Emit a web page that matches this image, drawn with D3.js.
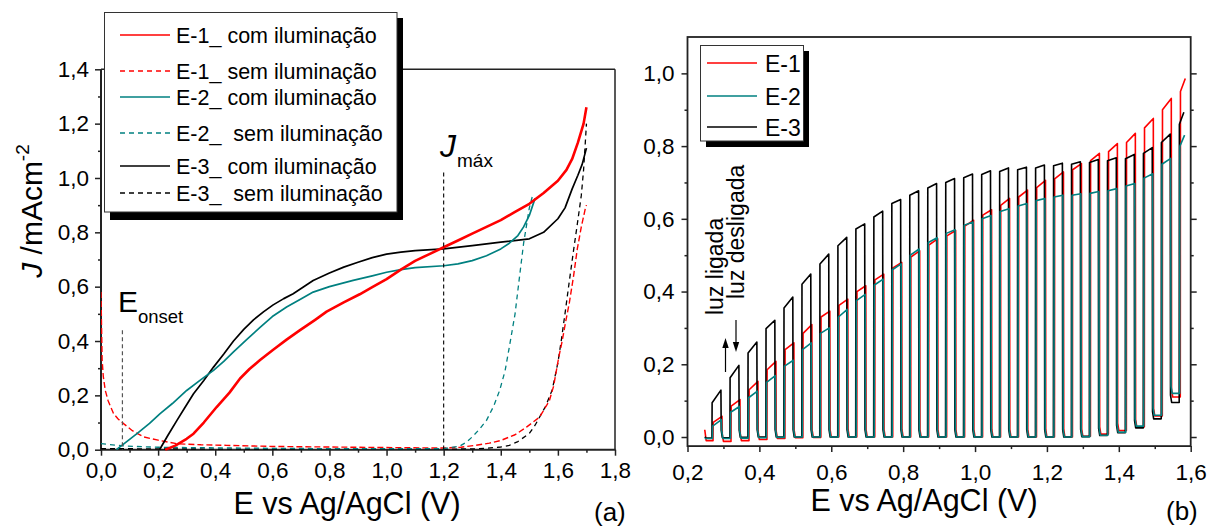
<!DOCTYPE html>
<html><head><meta charset="utf-8">
<script src="https://cdn.jsdelivr.net/npm/d3@7"></script>
<style>
html,body{margin:0;padding:0;background:#fff;}
svg{display:block;font-family:"Liberation Sans",Arial,sans-serif;}
</style></head><body>
<svg id="c" width="1208" height="526"></svg>
<script>
// ---------- Panel (a) data ----------
const e1ComX = [0.225,0.26,0.30,0.324,0.36,0.405,0.45,0.487,0.52,0.557,0.603,0.65,0.697,0.75,0.79,0.85,0.906,0.95,1.0,1.05,1.1,1.15,1.2,1.25,1.3,1.35,1.4,1.45,1.5,1.55,1.6,1.63,1.65,1.67,1.69,1.7];
const e1ComY = [0,0.015,0.04,0.059,0.10,0.157,0.21,0.262,0.297,0.33,0.368,0.405,0.44,0.478,0.508,0.542,0.572,0.598,0.628,0.663,0.695,0.72,0.745,0.77,0.795,0.82,0.845,0.875,0.905,0.945,0.99,1.03,1.07,1.13,1.2,1.26];
const e1SemX = [0,0.002,0.004,0.008,0.015,0.025,0.044,0.06,0.079,0.11,0.149,0.2,0.266,0.35,0.44,0.6,0.79,1.0,1.2,1.26,1.31,1.36,1.40,1.45,1.49,1.536,1.57,1.585,1.603,1.615,1.627,1.64,1.655,1.668,1.682,1.696,1.7];
const e1SemY = [0.58,0.45,0.33,0.27,0.218,0.18,0.133,0.113,0.096,0.07,0.047,0.035,0.022,0.018,0.016,0.012,0.01,0.008,0.006,0.009,0.016,0.024,0.034,0.055,0.083,0.12,0.18,0.234,0.34,0.4,0.47,0.54,0.64,0.739,0.82,0.887,0.9];
const e2ComX = [0.054,0.09,0.126,0.17,0.207,0.25,0.30,0.35,0.394,0.43,0.464,0.51,0.557,0.60,0.65,0.70,0.743,0.8,0.883,0.95,1.0,1.05,1.1,1.2,1.25,1.3,1.35,1.4,1.43,1.46,1.48,1.5,1.52];
const e2ComY = [0,0.03,0.059,0.097,0.133,0.17,0.218,0.258,0.292,0.325,0.36,0.405,0.45,0.49,0.525,0.555,0.58,0.60,0.623,0.64,0.653,0.663,0.67,0.677,0.684,0.696,0.714,0.739,0.76,0.788,0.82,0.862,0.925];
const e2SemX = [0,0.05,0.09,0.2,0.4,0.6,0.8,1.0,1.2,1.256,1.28,1.30,1.325,1.35,1.375,1.396,1.415,1.43,1.45,1.466,1.48,1.5,1.51];
const e2SemY = [0.022,0.017,0.013,0.009,0.007,0.005,0.004,0.004,0.004,0.013,0.028,0.047,0.075,0.108,0.16,0.218,0.29,0.378,0.5,0.64,0.76,0.89,0.93];
const e3ComX = [0.205,0.235,0.266,0.295,0.324,0.36,0.394,0.43,0.464,0.5,0.534,0.57,0.603,0.64,0.673,0.71,0.743,0.8,0.85,0.9,0.95,1.0,1.05,1.1,1.2,1.3,1.4,1.5,1.55,1.6,1.625,1.65,1.67,1.685,1.7];
const e3ComY = [0,0.054,0.108,0.157,0.206,0.255,0.304,0.352,0.40,0.443,0.478,0.508,0.533,0.556,0.574,0.60,0.623,0.65,0.672,0.69,0.707,0.72,0.727,0.733,0.739,0.751,0.764,0.776,0.8,0.85,0.89,0.96,1.01,1.05,1.11];
const e3SemX = [0,0.2,0.5,0.8,1.0,1.2,1.3,1.35,1.4,1.43,1.46,1.5,1.52,1.557,1.58,1.6,1.613,1.627,1.64,1.654,1.668,1.682,1.69,1.696,1.7];
const e3SemY = [0.004,0.003,0.002,0.002,0.002,0.002,0.003,0.005,0.01,0.016,0.03,0.06,0.09,0.16,0.22,0.32,0.41,0.517,0.62,0.727,0.83,0.936,1.03,1.13,1.2];
const legendA = ["E-1_ com iluminação","E-1_ sem iluminação","E-2_ com iluminação","E-2_  sem iluminação","E-3_ com iluminação","E-3_  sem iluminação"];
const xTicksA = [0,0.2,0.4,0.6,0.8,1.0,1.2,1.4,1.6,1.8];
const xMinorA = [0.1,0.3,0.5,0.7,0.9,1.1,1.3,1.5,1.7];
const yTicksA = [0,0.2,0.4,0.6,0.8,1.0,1.2,1.4];
const yMinorA = [0.1,0.3,0.5,0.7,0.9,1.1,1.3];
const eOnset = 0.075, eOnsetTop = 0.44;
const jMax = 1.2, jMaxTop = 1.02;

// ---------- Panel (b) data ----------
const lightOn  = [0.268,0.318,0.368,0.418,0.468,0.518,0.568,0.618,0.668,0.718,0.768,0.818,0.868,0.918,0.968,1.018,1.068,1.118,1.168,1.218,1.268,1.318,1.368,1.418,1.468,1.518,1.568];
const lightOff = [0.293,0.343,0.393,0.443,0.493,0.543,0.593,0.643,0.693,0.743,0.793,0.843,0.893,0.943,0.993,1.043,1.093,1.143,1.193,1.243,1.293,1.343,1.393,1.443,1.493,1.543];
const scanStart = 0.248;
const e1On  = [0.04,0.085,0.13,0.185,0.24,0.285,0.33,0.362,0.40,0.432,0.465,0.495,0.528,0.553,0.58,0.61,0.637,0.66,0.686,0.71,0.735,0.76,0.785,0.81,0.85,0.90,0.95];
const e1Top = [0.057,0.103,0.153,0.208,0.259,0.309,0.346,0.379,0.416,0.448,0.48,0.512,0.545,0.568,0.596,0.625,0.656,0.679,0.706,0.729,0.752,0.78,0.807,0.835,0.876,0.931,0.986];
const e1Dark= [-0.01,-0.012,-0.01,-0.007,-0.004,-0.002,-0.001,0,0,0,0,0,0,0,0,0,0,0,0,0,0,0.002,0.008,0.018,0.028,0.058,0.11];
const e2On  = [0.03,0.068,0.108,0.15,0.195,0.24,0.285,0.33,0.375,0.418,0.46,0.50,0.535,0.56,0.582,0.60,0.62,0.635,0.65,0.66,0.665,0.67,0.677,0.69,0.712,0.75,0.80];
const e2Top = [0.048,0.084,0.126,0.169,0.211,0.259,0.30,0.351,0.392,0.434,0.476,0.517,0.548,0.57,0.591,0.609,0.628,0.642,0.656,0.665,0.669,0.675,0.683,0.697,0.724,0.766,0.83];
const e2Dark= [-0.004,-0.004,-0.003,-0.002,-0.001,0,0,0,0,0,0,0,0,0,0,0,0,0,0,0,0,0.001,0.005,0.013,0.03,0.06,0.12];
const e3On  = [0.094,0.163,0.231,0.298,0.355,0.42,0.476,0.526,0.572,0.605,0.642,0.665,0.685,0.70,0.713,0.722,0.73,0.735,0.74,0.746,0.75,0.755,0.76,0.765,0.78,0.81,0.86];
const e3Top = [0.129,0.197,0.261,0.321,0.385,0.448,0.503,0.549,0.586,0.621,0.653,0.677,0.697,0.711,0.723,0.732,0.74,0.742,0.748,0.753,0.757,0.763,0.768,0.777,0.796,0.833,0.893];
const e3Dark= [-0.003,-0.002,-0.001,0,0,0,0,0,0,0,0,0,0,0,0,0,0,0,0,0,0,0.001,0.004,0.012,0.025,0.05,0.095];
const startVal = {e1:0.02, e2:-0.004, e3:0.0};
const delay = {e1:0.003, e2:0.0015, e3:0};
const scanEnd = {e1:1.585, e2:1.583, e3:1.581};
const legendB = ["E-1","E-2","E-3"];
const xTicksB = [0.2,0.4,0.6,0.8,1.0,1.2,1.4,1.6];
const xMinorB = [0.3,0.5,0.7,0.9,1.1,1.3,1.5];
const yTicksB = [0,0.2,0.4,0.6,0.8,1.0];
const yMinorB = [0.1,0.3,0.5,0.7,0.9];

const RED="#ff0000", TEAL="#008080", BLK="#000000";
const fmt = d => d.toFixed(1).replace('.', ',');

const svg = d3.select("#c");

// ================= Panel (a) =================
const xA = d3.scaleLinear().domain([0,1.8]).range([101,615]);
const yA = d3.scaleLinear().domain([0,1.4]).range([449.7,69.3]);
const gA = svg.append("g");

function styleAxis(g, fs){
  g.selectAll("path.domain").remove();
  g.selectAll("line").attr("stroke","#222").attr("stroke-width",1.5);
  g.selectAll("text").attr("font-size",fs).attr("fill","#000").attr("font-family","Liberation Sans, Arial, sans-serif");
}
gA.append("g").attr("transform","translate(0,449.7)")
  .call(d3.axisBottom(xA).tickValues(xMinorA).tickSize(3).tickFormat("")).call(g=>styleAxis(g,22.5));
gA.append("g").attr("transform","translate(0,449.7)")
  .call(d3.axisBottom(xA).tickValues(xTicksA).tickSize(6).tickPadding(6).tickFormat(fmt)).call(g=>styleAxis(g,22.5));
gA.append("g").attr("transform","translate(101,0)")
  .call(d3.axisLeft(yA).tickValues(yMinorA).tickSize(3).tickFormat("")).call(g=>styleAxis(g,22.5));
gA.append("g").attr("transform","translate(101,0)")
  .call(d3.axisLeft(yA).tickValues(yTicksA).tickSize(6).tickPadding(6).tickFormat(fmt)).call(g=>styleAxis(g,22.5));

// frame (drawn below curves)
gA.append("line").attr("x1",101).attr("x2",615).attr("y1",69.3).attr("y2",69.3).attr("stroke","#222").attr("stroke-width",1.5);
gA.append("line").attr("x1",615).attr("x2",615).attr("y1",69.3).attr("y2",449.7).attr("stroke","#222").attr("stroke-width",1.5);
gA.append("line").attr("x1",101).attr("x2",101).attr("y1",69.3).attr("y2",450.5).attr("stroke","#222").attr("stroke-width",2);
gA.append("line").attr("x1",100).attr("x2",615.7).attr("y1",449.7).attr("y2",449.7).attr("stroke","#222").attr("stroke-width",2);

svg.append("clipPath").attr("id","clipA").append("rect")
  .attr("x",xA(0)).attr("y",yA(1.4)).attr("width",xA(1.8)-xA(0)+1).attr("height",yA(0)-yA(1.4)+1);
const plotA = gA.append("g").attr("clip-path","url(#clipA)");
const lineA = (xs,ys) => d3.line().x((d,i)=>xA(xs[i])).y((d,i)=>yA(ys[i]))(xs);
const curvesA = [
  {xs:e3SemX, ys:e3SemY, c:BLK, dash:"5,4", w:1.3},
  {xs:e1SemX, ys:e1SemY, c:RED, dash:"6,3", w:1.4},
  {xs:e2SemX, ys:e2SemY, c:TEAL, dash:"5,4", w:1.3},
  {xs:e3ComX, ys:e3ComY, c:BLK, dash:null, w:1.7},
  {xs:e2ComX, ys:e2ComY, c:TEAL, dash:null, w:1.7},
  {xs:e1ComX, ys:e1ComY, c:RED, dash:null, w:2.6},
];
curvesA.forEach(s=>{
  plotA.append("path").attr("d",lineA(s.xs,s.ys)).attr("fill","none")
   .attr("stroke",s.c).attr("stroke-width",s.w).attr("stroke-dasharray",s.dash)
   .attr("stroke-linejoin","round");
});
gA.append("line").attr("x1",xA(eOnset)).attr("x2",xA(eOnset)).attr("y1",yA(eOnsetTop)).attr("y2",yA(0))
  .attr("stroke","#555").attr("stroke-width",1.2).attr("stroke-dasharray","4,3");
gA.append("line").attr("x1",xA(jMax)).attr("x2",xA(jMax)).attr("y1",yA(jMaxTop)).attr("y2",yA(0))
  .attr("stroke","#000").attr("stroke-width",1.1).attr("stroke-dasharray","4,3");
gA.append("text").attr("x",118).attr("y",312).attr("font-size",30).text("E");
gA.append("text").attr("x",138).attr("y",322.5).attr("font-size",18.5).text("onset");
gA.append("text").attr("x",440).attr("y",157).attr("font-size",32).attr("font-style","italic").text("J");
gA.append("text").attr("x",457).attr("y",167).attr("font-size",19).text("máx");

// legend (a)
gA.append("rect").attr("x",110).attr("y",18).attr("width",293).attr("height",202).attr("fill","#000");
gA.append("rect").attr("x",104.5).attr("y",12.5).attr("width",292.5).attr("height",199.5).attr("fill","#fff").attr("stroke","#333").attr("stroke-width",1);
const legRowsA = [35,71,97,133,166,193];
const legStyleA = [[RED,null],[RED,"5,4"],[TEAL,null],[TEAL,"5,4"],[BLK,null],[BLK,"5,4"]];
legendA.forEach((t,i)=>{
  gA.append("line").attr("x1",120).attr("x2",170).attr("y1",legRowsA[i]).attr("y2",legRowsA[i])
    .attr("stroke",legStyleA[i][0]).attr("stroke-width",1.5).attr("stroke-dasharray",legStyleA[i][1]);
  gA.append("text").attr("x",176).attr("y",legRowsA[i]+7.5).attr("font-size",21.5)
    .style("white-space","pre").text(t);
});

gA.append("text").attr("x",347).attr("y",514).attr("text-anchor","middle").attr("font-size",30.5).text("E vs Ag/AgCl (V)");
const yt = gA.append("text").attr("transform","translate(42,211) rotate(-90)").attr("text-anchor","middle").attr("font-size",30);
yt.append("tspan").attr("font-style","italic").text("J");
yt.append("tspan").text(" /mAcm");
yt.append("tspan").attr("font-size",19).attr("dy",-13).text("-2");
gA.append("text").attr("x",594).attr("y",521).attr("font-size",26).text("(a)");

// ================= Panel (b) =================
const xB = d3.scaleLinear().domain([0.2,1.6]).range([687.5,1190.7]);
const yB = d3.scaleLinear().domain([-0.025,1.1]).range([446.1,37]);
const gB = svg.append("g");
gB.append("g").attr("transform","translate(0,446.1)")
  .call(d3.axisBottom(xB).tickValues(xMinorB).tickSize(3).tickFormat("")).call(g=>styleAxis(g,22.5));
gB.append("g").attr("transform","translate(0,446.1)")
  .call(d3.axisBottom(xB).tickValues(xTicksB).tickSize(6).tickPadding(12).tickFormat(fmt)).call(g=>styleAxis(g,22.5));
gB.append("g").attr("transform","translate(687.5,0)")
  .call(d3.axisLeft(yB).tickValues(yMinorB).tickSize(3).tickFormat("")).call(g=>styleAxis(g,22.5));
gB.append("g").attr("transform","translate(687.5,0)")
  .call(d3.axisLeft(yB).tickValues(yTicksB).tickSize(6).tickPadding(7).tickFormat(fmt)).call(g=>styleAxis(g,22.5));
gB.append("g").attr("transform","translate(1190.7,0)")
  .call(d3.axisRight(yB).tickValues(yMinorB).tickSize(3).tickFormat("")).call(g=>styleAxis(g,22.5));
gB.append("g").attr("transform","translate(1190.7,0)")
  .call(d3.axisRight(yB).tickValues(yTicksB).tickSize(6).tickFormat("")).call(g=>styleAxis(g,22.5));

function chopPath(on, top, dark, key){
  const dl = delay[key];
  const pts = [[scanStart, startVal[key]], [scanStart+0.004, dark[0]]];
  for(let k=0;k<lightOn.length;k++){
    const xon = lightOn[k]+dl;
    pts.push([xon, dark[k]]);
    pts.push([xon+0.0005, on[k]]);
    if(k<lightOff.length){
      const xoff = lightOff[k]+dl;
      pts.push([xoff, top[k]]);
      pts.push([xoff+0.0008, dark[k+1]+0.02]);
      pts.push([xoff+0.004, dark[k+1]]);
    } else {
      pts.push([scanEnd[key], top[k]]);
    }
  }
  return d3.line().x(p=>xB(p[0])).y(p=>yB(p[1]))(pts);
}
const plotB = gB.append("g");
[[e1On,e1Top,e1Dark,"e1",RED],[e3On,e3Top,e3Dark,"e3",BLK],[e2On,e2Top,e2Dark,"e2",TEAL]].forEach(s=>{
  plotB.append("path").attr("d",chopPath(s[0],s[1],s[2],s[3])).attr("fill","none")
    .attr("stroke",s[4]).attr("stroke-width",1.6).attr("stroke-linejoin","round");
});

gB.append("rect").attr("x",687.5).attr("y",37).attr("width",1190.7-687.5).attr("height",446.1-37)
  .attr("fill","none").attr("stroke","#222").attr("stroke-width",1.8);

gB.append("rect").attr("x",706).attr("y",51).attr("width",103).attr("height",96).attr("fill","#000");
gB.append("rect").attr("x",700.5).attr("y",45.5).attr("width",103).attr("height",95.5).attr("fill","#fff").attr("stroke","#333").attr("stroke-width",1);
const legRowsB = [63,96,127];
const legColB = [RED,TEAL,BLK];
legendB.forEach((t,i)=>{
  gB.append("line").attr("x1",707).attr("x2",757).attr("y1",legRowsB[i]).attr("y2",legRowsB[i])
    .attr("stroke",legColB[i]).attr("stroke-width",1.5);
  gB.append("text").attr("x",765).attr("y",legRowsB[i]+8.5).attr("font-size",23).text(t);
});

gB.append("text").attr("transform","translate(723,315) rotate(-90)").attr("font-size",23).text("luz ligada");
gB.append("text").attr("transform","translate(744,299) rotate(-90)").attr("font-size",23).text("luz desligada");
gB.append("line").attr("x1",725.5).attr("x2",725.5).attr("y1",372).attr("y2",347).attr("stroke","#000").attr("stroke-width",1.2);
gB.append("path").attr("d","M725.5,338 L722.3,348 L728.7,348 Z").attr("fill","#000");
gB.append("line").attr("x1",736).attr("x2",736).attr("y1",320).attr("y2",343).attr("stroke","#000").attr("stroke-width",1.2);
gB.append("path").attr("d","M736,352 L732.8,342 L739.2,342 Z").attr("fill","#000");

gB.append("text").attr("x",924).attr("y",511).attr("text-anchor","middle").attr("font-size",30.5).text("E vs Ag/AgCl (V)");
gB.append("text").attr("x",1166).attr("y",520).attr("font-size",26).text("(b)");
</script>
</body></html>
